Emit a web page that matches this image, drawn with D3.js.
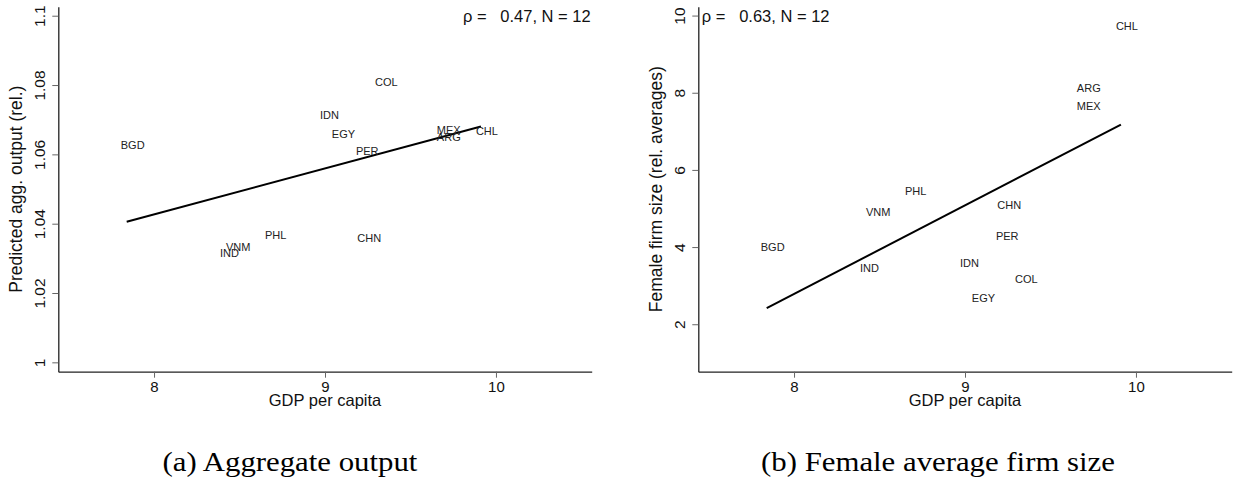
<!DOCTYPE html>
<html>
<head>
<meta charset="utf-8">
<script src="https://cdn.jsdelivr.net/npm/d3@7"></script>
<style>
  html, body { margin: 0; padding: 0; background: #fff; }
  svg { display: block; }
</style>
</head>
<body>
<svg id="chart" width="1233" height="487"></svg>
<script>
// ---- data ----
const countries   = ["BGD","IND","VNM","PHL","IDN","EGY","PER","CHN","COL","ARG","MEX","CHL"];
const gdpPerCapita = [7.840, 8.406, 8.457, 8.676, 8.991, 9.073, 9.212, 9.224, 9.324, 9.689, 9.689, 9.912];
const aggOutput    = [1.0626, 1.0316, 1.0332, 1.0368, 1.0713, 1.0659, 1.0611, 1.0358, 1.0808, 1.0649, 1.0671, 1.0668];
const femaleSize   = [3.990, 3.445, 4.898, 5.451, 3.591, 2.667, 4.291, 5.088, 3.168, 8.116, 7.657, 9.732];
const xTicks       = [8, 9, 10];
const yTicksA      = [1, 1.02, 1.04, 1.06, 1.08, 1.1];
const yTickLabelsA = ["1", "1.02", "1.04", "1.06", "1.08", "1.1"];
const yTicksB      = [2, 4, 6, 8, 10];
const yTickLabelsB = ["2", "4", "6", "8", "10"];
const xTitle   = "GDP per capita";
const yTitleA  = "Predicted agg. output (rel.)";
const yTitleB  = "Female firm size (rel. averages)";
const statsA   = "ρ =   0.47, N = 12";
const statsB   = "ρ =   0.63, N = 12";
const captionA = "(a) Aggregate output";
const captionB = "(b) Female average firm size";

const svg = d3.select("#chart");
const SANS = "'Liberation Sans', Arial, Helvetica, sans-serif";
const SERIF = "'Liberation Serif', 'Times New Roman', serif";

function ols(xs, ys) {
  const mx = d3.mean(xs), my = d3.mean(ys);
  let sxy = 0, sxx = 0;
  xs.forEach((x, i) => { sxy += (x - mx) * (ys[i] - my); sxx += (x - mx) * (x - mx); });
  const b = sxy / sxx;
  return { b, a: my - b * mx };
}

function panel(opts) {
  const { ox, yDomain, yVals, yTicks, yTickLabels, yTitle, stats, statsAnchor, caption, captionX } = opts;
  const g = svg.append("g").attr("transform", `translate(${ox},0)`);
  const left = 58.3, right = 591.7, top = 6.7, bottom = 371.7;
  const x = d3.scaleLinear().domain([7.44, 10.56]).range([left, right]);
  const y = d3.scaleLinear().domain(yDomain).range([bottom, top]);

  // x axis
  const xa = g.append("g").attr("transform", `translate(0,${bottom})`)
    .call(d3.axisBottom(x).tickValues(xTicks).tickFormat(d3.format("d")).tickSize(6).tickSizeOuter(0));
  xa.select(".domain").attr("stroke", "#222").attr("stroke-width", 1.3);
  xa.selectAll(".tick line").attr("stroke", "#666").attr("stroke-width", 1);
  xa.selectAll(".tick text").attr("font-family", SANS).attr("font-size", 15).attr("fill", "#111")
    .attr("y", 20.5).attr("dy", 0);

  // y axis
  const ya = g.append("g").attr("transform", `translate(${left},0)`)
    .call(d3.axisLeft(y).tickValues(yTicks).tickFormat((d, i) => yTickLabels[i]).tickSize(6).tickSizeOuter(0));
  ya.select(".domain").attr("stroke", "#222").attr("stroke-width", 1.3);
  ya.selectAll(".tick line").attr("stroke", "#666").attr("stroke-width", 1);
  ya.selectAll(".tick text").attr("font-family", SANS).attr("font-size", 15.5).attr("fill", "#111")
    .attr("text-anchor", "middle").attr("transform", "rotate(-90)")
    .attr("x", 0).attr("y", -13).attr("dy", 0);

  // axis titles
  g.append("text").attr("x", (left + right) / 2).attr("y", 406)
    .attr("text-anchor", "middle").attr("font-family", SANS).attr("font-size", 16.5).attr("fill", "#111")
    .text(xTitle);
  g.append("text").attr("transform", `translate(22,${(top + bottom) / 2}) rotate(-90)`)
    .attr("text-anchor", "middle").attr("font-family", SANS).attr("font-size", 17.5).attr("fill", "#111")
    .text(yTitle);

  // fit line
  const fit = ols(gdpPerCapita, yVals);
  const xr = d3.extent(gdpPerCapita);
  g.append("path")
    .datum(xr.map(v => [v, fit.a + fit.b * v]))
    .attr("d", d3.line().x(d => x(d[0])).y(d => y(d[1])))
    .attr("stroke", "#000").attr("stroke-width", 2).attr("fill", "none");

  // country labels
  g.selectAll("text.lab").data(countries).join("text").attr("class", "lab")
    .attr("x", (d, i) => x(gdpPerCapita[i]) + 6)
    .attr("y", (d, i) => y(yVals[i]))
    .attr("dy", "0.36em")
    .attr("text-anchor", "middle").attr("font-family", SANS).attr("font-size", 11).attr("fill", "#222")
    .text(d => d);

  // stats
  g.append("text")
    .attr("x", statsAnchor === "end" ? right - 1 : left + 3.5).attr("y", 21.5)
    .attr("text-anchor", statsAnchor).attr("font-family", SANS).attr("font-size", 16.5).attr("fill", "#111")
    .style("white-space", "pre")
    .text(stats);

  // caption
  g.append("g").attr("transform", `translate(${captionX},471) scale(1.1,1)`)
    .append("text").attr("text-anchor", "middle").attr("font-family", SERIF).attr("font-size", 28).attr("fill", "#000")
    .text(caption);
}

panel({ ox: 0, yDomain: [0.9973, 1.1026], yVals: aggOutput, yTicks: yTicksA, yTickLabels: yTickLabelsA,
        yTitle: yTitleA, stats: statsA, statsAnchor: "end", caption: captionA, captionX: 290 });
panel({ ox: 640, yDomain: [0.77, 10.23], yVals: femaleSize, yTicks: yTicksB, yTickLabels: yTickLabelsB,
        yTitle: yTitleB, stats: statsB, statsAnchor: "start", caption: captionB, captionX: 298 });
</script>
</body>
</html>
